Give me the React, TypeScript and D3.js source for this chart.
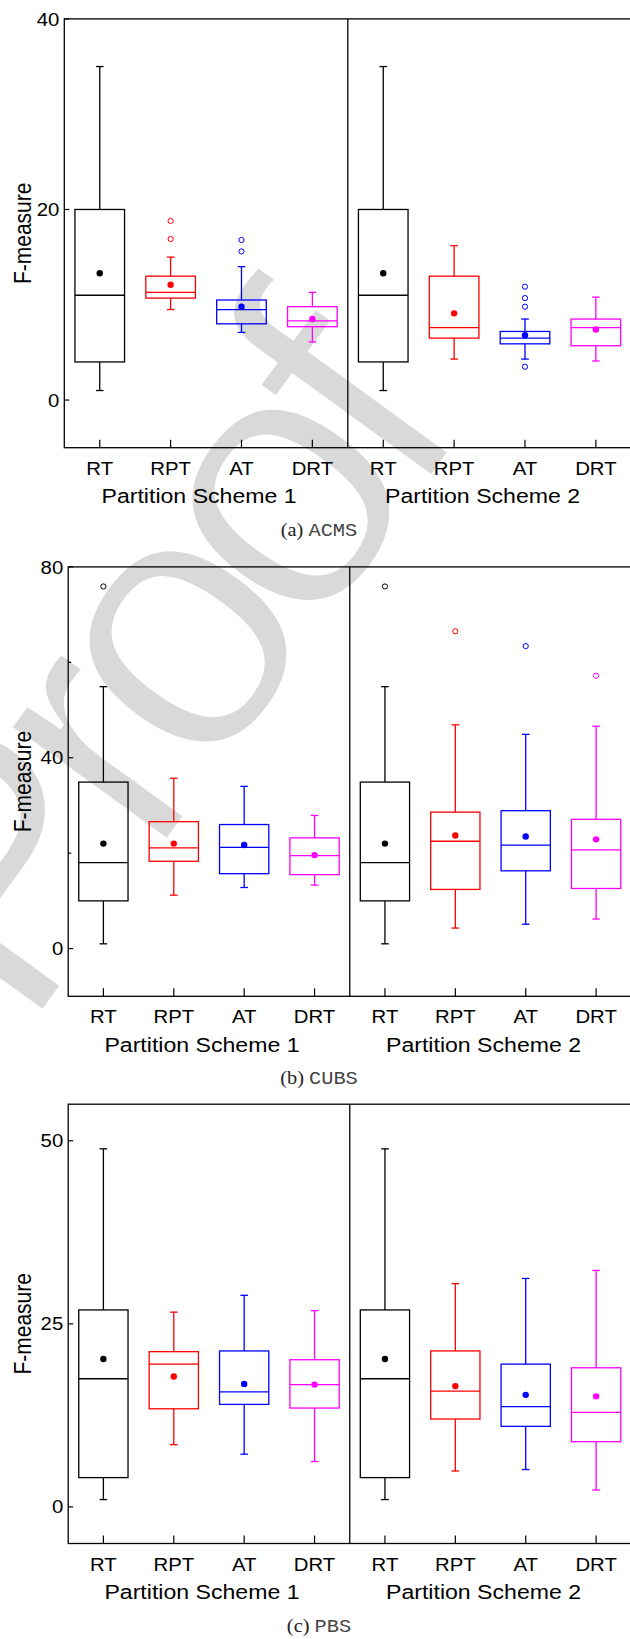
import React from 'react';
import * as d3 from 'd3';

// ---------- data ----------
const categories = ['RT', 'RPT', 'AT', 'DRT', 'RT', 'RPT', 'AT', 'DRT'];
const schemeLabels = ['Partition Scheme 1', 'Partition Scheme 2'];
const schemeCenters = [2.5, 6.5];
const boxColors = ['#000000', '#ff0000', '#0000ff', '#ff00ff', '#000000', '#ff0000', '#0000ff', '#ff00ff'];

// (a) ACMS
const acmsLow = [1.0, 9.5, 7.1, 6.1, 1.0, 4.3, 4.3, 4.1];
const acmsQ1 = [4.0, 10.7, 8.0, 7.7, 4.0, 6.5, 5.9, 5.7];
const acmsMedian = [11.0, 11.3, 9.5, 8.3, 11.0, 7.6, 6.5, 7.6];
const acmsQ3 = [20.0, 13.0, 10.5, 9.8, 20.0, 13.0, 7.2, 8.5];
const acmsHigh = [35.0, 15.0, 14.0, 11.3, 35.0, 16.2, 8.5, 10.8];
const acmsMean = [13.3, 12.1, 9.8, 8.5, 13.3, 9.1, 6.8, 7.4];
const acmsOutliers = [[], [18.8, 16.9], [16.8, 15.6], [], [], [], [11.9, 10.7, 9.8, 3.5], []];
const acmsTicks = [0, 20, 40];
const acmsMinor: number[] = [];

// (b) CUBS
const cubsLow = [1.0, 11.2, 12.8, 13.3, 1.0, 4.3, 5.1, 6.2];
const cubsQ1 = [10.0, 18.3, 15.7, 15.5, 10.0, 12.4, 16.3, 12.6];
const cubsMedian = [18.0, 21.1, 21.2, 19.5, 18.0, 22.5, 21.7, 20.7];
const cubsQ3 = [34.9, 26.6, 26.0, 23.2, 34.9, 28.6, 28.9, 27.1];
const cubsHigh = [54.9, 35.7, 34.0, 27.9, 54.9, 46.9, 44.9, 46.6];
const cubsMean = [22.0, 22.0, 21.7, 19.6, 22.0, 23.7, 23.5, 22.9];
const cubsOutliers = [[75.9], [], [], [], [75.9], [66.5], [63.4], [57.2]];
const cubsTicks = [0, 40, 80];
const cubsMinor = [20, 60];

// (c) PBS
const pbsLow = [1.0, 8.5, 7.2, 6.2, 1.0, 4.9, 5.1, 2.3];
const pbsQ1 = [4.0, 13.4, 14.0, 13.5, 4.0, 12.0, 11.0, 8.9];
const pbsMedian = [17.5, 19.5, 15.7, 16.7, 17.5, 15.8, 13.7, 12.9];
const pbsQ3 = [26.9, 21.2, 21.3, 20.1, 26.9, 21.3, 19.5, 19.0];
const pbsHigh = [48.9, 26.6, 28.9, 26.8, 48.9, 30.5, 31.2, 32.3];
const pbsMean = [20.2, 17.8, 16.8, 16.7, 20.2, 16.5, 15.3, 15.1];
const pbsOutliers = [[], [], [], [], [], [], [], []];
const pbsTicks = [0, 25, 50];
const pbsMinor: number[] = [];

const yLabel = 'F-measure';
const watermark = 'Proof';

// ---------- layout ----------
const W = 630;
const H = 1639;
const SANS = '"Liberation Sans", Arial, Helvetica, sans-serif';
const SERIF = '"Liberation Serif", "Times New Roman", serif';
const MONO = '"Liberation Mono", "Courier New", monospace';
const SX = 1.1; // horizontal stretch of the figure's glyphs

type PanelSpec = {
  low: number[]; q1: number[]; median: number[]; q3: number[]; high: number[]; mean: number[];
  outliers: number[][]; ticks: number[]; minor: number[]; domain: [number, number];
  left: number; top: number; bottom: number; tag: string; name: string;
};

const panels: PanelSpec[] = [
  { low: acmsLow, q1: acmsQ1, median: acmsMedian, q3: acmsQ3, high: acmsHigh, mean: acmsMean,
    outliers: acmsOutliers, ticks: acmsTicks, minor: acmsMinor, domain: [-5, 40],
    left: 64.3, top: 18.9, bottom: 447.7, tag: '(a)', name: 'ACMS' },
  { low: cubsLow, q1: cubsQ1, median: cubsMedian, q3: cubsQ3, high: cubsHigh, mean: cubsMean,
    outliers: cubsOutliers, ticks: cubsTicks, minor: cubsMinor, domain: [-10, 80],
    left: 68.2, top: 566.9, bottom: 996.3, tag: '(b)', name: 'CUBS' },
  { low: pbsLow, q1: pbsQ1, median: pbsMedian, q3: pbsQ3, high: pbsHigh, mean: pbsMean,
    outliers: pbsOutliers, ticks: pbsTicks, minor: pbsMinor, domain: [-5, 55],
    left: 68.2, top: 1104.2, bottom: 1543.5, tag: '(c)', name: 'PBS' },
];

function SText(props: { x: number; y: number; anchor?: string; size: number; family?: string; children: React.ReactNode; fill?: string }) {
  const { x, y, anchor = 'middle', size, family = SANS, children, fill = '#000' } = props;
  return (
    <text
      transform={`translate(${x},${y}) scale(${SX},1)`}
      textAnchor={anchor}
      fontFamily={family}
      fontSize={size}
      fill={fill}
    >
      {children}
    </text>
  );
}

function Panel({ p }: { p: PanelSpec }) {
  const right = 631.3;
  const x = d3.scaleLinear().domain([0.5, 8.5]).range([p.left, right]);
  const y = d3.scaleLinear().domain(p.domain).range([p.bottom, p.top]);
  const bw = x(0.35) - x(0);
  const cap = 3.8;
  const sw = 1.3;
  const idx = d3.range(categories.length);
  return (
    <g>
      {/* frame */}
      <rect x={p.left} y={p.top} width={right - p.left} height={p.bottom - p.top} fill="none" stroke="#000" strokeWidth={1.3} />
      <line x1={x(4.5)} x2={x(4.5)} y1={p.top} y2={p.bottom} stroke="#000" strokeWidth={1.3} />
      {/* y ticks */}
      {p.ticks.map((t) => (
        <g key={'t' + t}>
          <line x1={p.left} x2={p.left + 5} y1={y(t)} y2={y(t)} stroke="#000" strokeWidth={1.2} />
          <SText x={p.left - 5} y={y(t) + 6.6} anchor="end" size={18.5}>{t}</SText>
        </g>
      ))}
      {p.minor.map((t) => (
        <line key={'m' + t} x1={p.left} x2={p.left + 3} y1={y(t)} y2={y(t)} stroke="#000" strokeWidth={1.2} />
      ))}
      {/* y label */}
      <text
        transform={`translate(31,${(p.top + p.bottom) / 2}) rotate(-90) scale(1,${SX})`}
        textAnchor="middle"
        fontFamily={SANS}
        fontSize={21}
      >
        {yLabel}
      </text>
      {/* x ticks and labels */}
      {idx.map((i) => (
        <g key={'x' + i}>
          <line x1={x(i + 1)} x2={x(i + 1)} y1={p.bottom} y2={p.bottom - 8} stroke="#000" strokeWidth={1.2} />
          <SText x={x(i + 1)} y={p.bottom + 27} size={18.5}>{categories[i]}</SText>
        </g>
      ))}
      {schemeLabels.map((s, k) => (
        <SText key={s} x={x(schemeCenters[k]) - 7} y={p.bottom + 55.5} size={21}>{s}</SText>
      ))}
      {/* boxes */}
      {idx.map((i) => {
        const cx = x(i + 1);
        const c = boxColors[i];
        return (
          <g key={'b' + i} stroke={c} strokeWidth={sw} fill="none">
            <line x1={cx} x2={cx} y1={y(p.q3[i])} y2={y(p.high[i])} />
            <line x1={cx} x2={cx} y1={y(p.q1[i])} y2={y(p.low[i])} />
            <line x1={cx - cap} x2={cx + cap} y1={y(p.high[i])} y2={y(p.high[i])} />
            <line x1={cx - cap} x2={cx + cap} y1={y(p.low[i])} y2={y(p.low[i])} />
            <rect x={cx - bw} y={y(p.q3[i])} width={2 * bw} height={y(p.q1[i]) - y(p.q3[i])} />
            <line x1={cx - bw} x2={cx + bw} y1={y(p.median[i])} y2={y(p.median[i])} />
            <circle cx={cx} cy={y(p.mean[i])} r={3.2} fill={c} stroke="none" />
            {p.outliers[i].map((o, j) => (
              <circle key={j} cx={cx} cy={y(o)} r={2.6} fill="none" stroke={c} strokeWidth={1} />
            ))}
          </g>
        );
      })}
      {/* caption */}
      <text
        transform={`translate(319,${p.bottom + 88}) scale(${SX},1)`}
        textAnchor="middle"
        fontSize={18.5}
        fill="#222"
      >
        <tspan fontFamily={SERIF}>{p.tag + ' '}</tspan>
        <tspan fontFamily={MONO} fill="#444">{p.name}</tspan>
      </text>
    </g>
  );
}

export default function App() {
  return (
    <svg
      width={W}
      height={H}
      viewBox={`0 0 ${W} ${H}`}
      style={{ position: 'absolute', left: 0, top: 0, display: 'block', background: '#fff' }}
    >
      <rect x={0} y={0} width={W} height={H} fill="#fff" />
      <text
        transform="translate(25.3,1037.5) rotate(-54)"
        fontFamily={SANS}
        fontSize={370}
        letterSpacing={-30.7}
        fill="#d9d9d9"
        stroke="#fff"
        strokeWidth={6}
      >
        {watermark}
      </text>
      {panels.map((p) => (
        <Panel key={p.name} p={p} />
      ))}
    </svg>
  );
}
